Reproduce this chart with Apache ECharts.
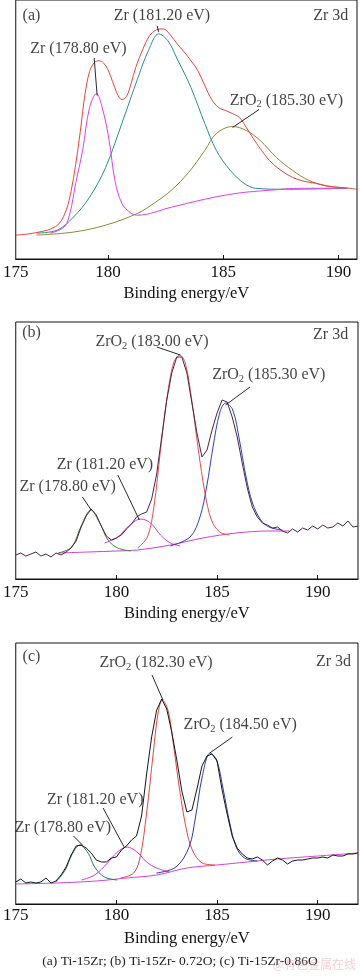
<!DOCTYPE html>
<html><head><meta charset="utf-8">
<script src="https://cdn.jsdelivr.net/npm/echarts@6/dist/echarts.min.js"></script>
<style>html,body{margin:0;padding:0;background:#fff}#c{width:360px;height:976px}</style>
</head><body><div id="c"></div>
<script>
// ---------- Panel (a) Ti-15Zr ----------
const envA = [[176.0,24],[176.5,25],[177.0,27],[177.5,30],[177.9,36],[178.2,50],[178.4,68],[178.6,95],[178.8,128],[179.0,165],[179.2,188],[179.4,197],[179.6,199],[179.8,197],[180.0,190],[180.2,178],[180.4,166],[180.6,160],[180.8,163],[181.0,176],[181.2,192],[181.5,210],[181.8,224],[182.1,230],[182.4,231],[182.7,225],[183.0,216],[183.3,208],[183.6,199],[183.9,189],[184.2,174],[184.5,160],[184.8,152],[185.1,149],[185.4,146],[185.7,142],[186.0,132],[186.3,121],[186.6,111],[187.0,99],[187.5,89],[188.0,82],[188.5,78],[189.0,76],[189.5,73],[190.0,72],[190.5,71],[190.8,70]];
const zr1812A = [[176.9,26],[177.8,29],[178.5,42],[179.2,62],[179.9,92],[180.6,136],[181.3,182],[181.75,209],[182.2,226],[182.6,219],[183.0,201],[183.6,172],[184.2,136],[184.7,109],[185.3,89],[185.9,76],[186.4,71],[187.7,70],[190.4,71]];
const zro2A = [[176.9,24],[178.5,27],[179.9,34],[181.3,46],[182.0,56],[182.75,69],[183.5,87],[184.2,109],[184.7,126],[185.4,133],[186.0,129],[186.6,119],[187.3,102],[188.0,89],[188.7,79],[189.4,74],[190.3,71]];
const zr1788A = [[177.5,26],[178.1,32],[178.35,46],[178.6,76],[178.9,109],[179.2,152],[179.5,166],[179.75,152],[180.05,119],[180.3,79],[180.6,56],[181.0,46],[181.3,44],[182.75,52],[184.2,60],[185.6,66],[187.0,69],[188.4,71],[190.3,71]];
const ticksA = [176, 180, 185, 190];
const tickLabelsA = ['175', '180', '185', '190'];
const textA = [[176.68,244,'(a)'],[189.66,244,'Zr 3d'],[182.34,244,'Zr (181.20 eV)'],[178.72,211,'Zr (178.80 eV)'],[187.74,159,'ZrO2 (185.30 eV)']];
const leadA = [[182.13,234,182.2,228],[179.4,202,179.53,164],[186.55,150,185.4,132]];

// ---------- Panel (b) Ti-15Zr-0.72O ----------
const rawStart = 175, rawStep = 0.25;
const rawB = [24,26,23,25,27,23,25,22,26,24, 27,31,38,52,63,70,64,53,43,39, 41,44,50,55,62,65,67,80,105,142, 179,206,222,222,206,176,146,122,129,149, 166,179,177,162,142,116,91,72,62,56, 54,51,52,48,46,50,47,51,49,53, 50,54,51,52,56,53,58,52,53];
const zr1788B = [[177.12,26],[177.78,32],[178.27,54],[178.73,69],[179.17,56],[179.58,39],[180.07,31],[180.72,28]];
const zr1812B = [[179.41,36],[180.07,42],[180.56,52],[181.21,60],[181.7,56],[182.19,44],[182.68,36],[183.17,33]];
const zro21830B = [[181.05,31],[181.54,42],[181.86,72],[182.19,129],[182.52,182],[182.84,216],[183.14,224],[183.42,216],[183.74,179],[184.07,129],[184.4,86],[184.72,59],[185.13,47],[185.62,44]];
const zro21853B = [[182.68,33],[183.66,42],[184.15,62],[184.48,92],[184.8,132],[185.13,166],[185.42,176],[185.78,169],[186.11,139],[186.44,102],[186.76,76],[187.17,59],[187.58,52],[188.24,49]];
const bgB = [[177.12,26],[178.6,27],[180.0,28],[181.05,29],[182.68,34],[184.3,41],[185.95,46],[187.58,48],[188.6,48]];
const textB = [[175.78,246,'(b)'],[190.64,244,'Zr 3d'],[181.77,237,'ZrO2 (183.00 eV)'],[187.57,204,'ZrO2 (185.30 eV)'],[179.43,114,'Zr (181.20 eV)'],[177.58,92,'Zr (178.80 eV)']];
const leadB = [[182.01,232,183.18,224],[186.64,192,185.42,174],[180.07,104,181.14,59],[178.31,82,178.75,69]];

// ---------- Panel (c) Ti-15Zr-0.86O ----------
const rawC = [22,25,21,22,21,22,26,21,23,29, 37,49,58,59,56,51,44,42,42,46, 47,54,58,64,68,88,130,167,194,205, 195,172,144,113,92,94,115,138,148,150, 143,114,90,68,56,50,46,45,47,44, 39,43,46,44,40,43,44,44,45,46, 46,47,46,49,48,48,50,50,51];
const zr1788C = [[177.0,22],[177.46,34],[177.78,49],[178.19,59],[178.59,51],[178.92,37],[179.4,27],[180.05,24]];
const zr1812C = [[178.27,24],[178.92,29],[179.56,41],[180.05,52],[180.53,57],[181.02,52],[181.5,42],[181.99,36],[182.64,32]];
const zro21823C = [[180.21,26],[180.86,31],[181.18,47],[181.5,91],[181.83,151],[182.07,191],[182.28,204],[182.56,194],[182.8,164],[183.12,117],[183.45,77],[183.77,54],[184.26,41],[184.9,39]];
const zro21845C = [[181.99,31],[182.96,37],[183.61,57],[183.93,87],[184.26,127],[184.66,151],[184.98,144],[185.31,114],[185.63,81],[185.95,57],[186.36,46],[187.0,43]];
const bgC = [[175,20],[177,21],[179,23],[180.5,26],[182,29],[183.5,36],[185,39],[186.5,42],[188,45],[190,48],[192,51]];
const textC = [[175.78,247,'(c)'],[190.78,242,'Zr 3d'],[181.97,241,'ZrO2 (182.30 eV)'],[186.15,179,'ZrO2 (184.50 eV)'],[178.95,104,'Zr (181.20 eV)'],[177.34,76,'Zr (178.80 eV)']];
const leadC = [[181.77,229,182.31,204],[185.76,167,184.64,151],[179.34,96,180.41,56],[177.87,68,178.31,59]];

const ticksBC = [175, 180, 185, 190];
const axisName = 'Binding energy/eV';
const caption = '(a) Ti-15Zr; (b) Ti-15Zr- 0.72O; (c) Ti-15Zr-0.86O';

// ---------- build ----------
const FONT = 'Liberation Serif';
const rawPts = arr => arr.map((v, i) => [rawStart + i * rawStep, v]);
function line(data, color, gi, smooth, width) {
  return { type: 'line', data, xAxisIndex: gi, yAxisIndex: gi, showSymbol: false, symbol: 'none',
    smooth: smooth ? 0.35 : false, lineStyle: { color, width: width || 1 }, silent: true, z: 3 };
}
function fmt(p) {
  const t = p.data[2];
  if (t.indexOf('ZrO2') === 0) return '{t|ZrO}{s|2}{t|' + t.slice(4) + '}';
  return '{t|' + t + '}';
}
function labels(arr, gi) {
  return { type: 'scatter', xAxisIndex: gi, yAxisIndex: gi, symbolSize: 0, silent: true, z: 5,
    data: arr, label: { show: true, position: 'inside', formatter: fmt,
      rich: { t: { fontFamily: FONT, fontSize: 16, color: '#111' },
              s: { fontFamily: FONT, fontSize: 10.5, color: '#111', padding: [8, 0, 0, 0] } } } };
}
function leaders(arr, gi) {
  return { type: 'lines', coordinateSystem: 'cartesian2d', xAxisIndex: gi, yAxisIndex: gi, silent: true, z: 4,
    lineStyle: { color: '#111', width: 0.9, opacity: 1 },
    data: arr.map(a => ({ coords: [[a[0], a[1]], [a[2], a[3]]] })) };
}
function xAxis(gi, min, max, labelVals, labelTexts, tickVals, margin) {
  return { gridIndex: gi, type: 'value', min, max,
    name: axisName, nameLocation: 'middle', nameGap: 26,
    nameTextStyle: { fontFamily: FONT, fontSize: 16.5, color: '#111' },
    axisLine: { show: true, lineStyle: { color: '#111', width: 1 } },
    axisTick: { show: true, inside: true, length: 4, customValues: tickVals, lineStyle: { color: '#111' } },
    axisLabel: { customValues: labelVals, margin, fontFamily: FONT, fontSize: 17, color: '#111',
      formatter: v => { const k = labelVals.indexOf(v); return k >= 0 ? labelTexts[k] : ''; } },
    splitLine: { show: false } };
}
function yAxis(gi, max) {
  return { gridIndex: gi, type: 'value', min: 0, max, show: false };
}
const gridBase = { show: true, borderColor: '#111', borderWidth: 1, backgroundColor: 'transparent' };

const option = {
  animation: false,
  backgroundColor: '#fff',
  grid: [
    Object.assign({ left: 9, right: 3, top: -1, height: 260 }, gridBase),
    Object.assign({ left: 9, right: 2, top: 322, height: 257 }, gridBase),
    Object.assign({ left: 9, right: 2, top: 643, height: 261 }, gridBase)
  ],
  xAxis: [
    xAxis(0, 176, 190.8, ticksA, tickLabelsA, [180, 185, 190], 5),
    xAxis(1, 175, 192, ticksBC, ticksBC.map(String), [180, 185, 190], 5),
    xAxis(2, 175, 192, ticksBC, ticksBC.map(String), [180, 185, 190], 3)
  ],
  yAxis: [yAxis(0, 260), yAxis(1, 257), yAxis(2, 261)],
  series: [
    line(zro2A, '#8a8a3a', 0, true),
    line(zr1812A, '#2f8c8c', 0, true),
    line(zr1788A, '#e040e8', 0, true),
    line(envA, '#e2463c', 0, true),
    labels(textA, 0), leaders(leadA, 0),

    line(bgB, '#d040d0', 1, true),
    line(zr1788B, '#3a8a3a', 1, true),
    line(zr1812B, '#d838d8', 1, true),
    line(zro21830B, '#e05050', 1, true),
    line(zro21853B, '#3040c0', 1, true),
    line(rawPts(rawB), '#4a2446', 1, false),
    labels(textB, 1), leaders(leadB, 1),

    line(bgC, '#cc48cc', 2, true),
    line(zr1788C, '#2a7a68', 2, true),
    line(zr1812C, '#d838d8', 2, true),
    line(zro21823C, '#e04848', 2, true),
    line(zro21845C, '#2a3aa8', 2, true),
    line(rawPts(rawC), '#151515', 2, false),
    labels(textC, 2), leaders(leadC, 2)
  ],
  graphic: [
    { type: 'text', left: 'center', top: 954, style: { text: caption, fontFamily: FONT, fontSize: 13.5, fill: '#222' } },
    { type: 'text', right: 4, top: 958, style: { text: '@有色金属在线', fontFamily: 'Noto Sans CJK SC', fontSize: 12, fill: 'rgba(230,150,160,0.45)' } }
  ]
};
const chart = echarts.init(document.getElementById('c'), null, { renderer: 'canvas' });
chart.setOption(option);
</script>
</body></html>
